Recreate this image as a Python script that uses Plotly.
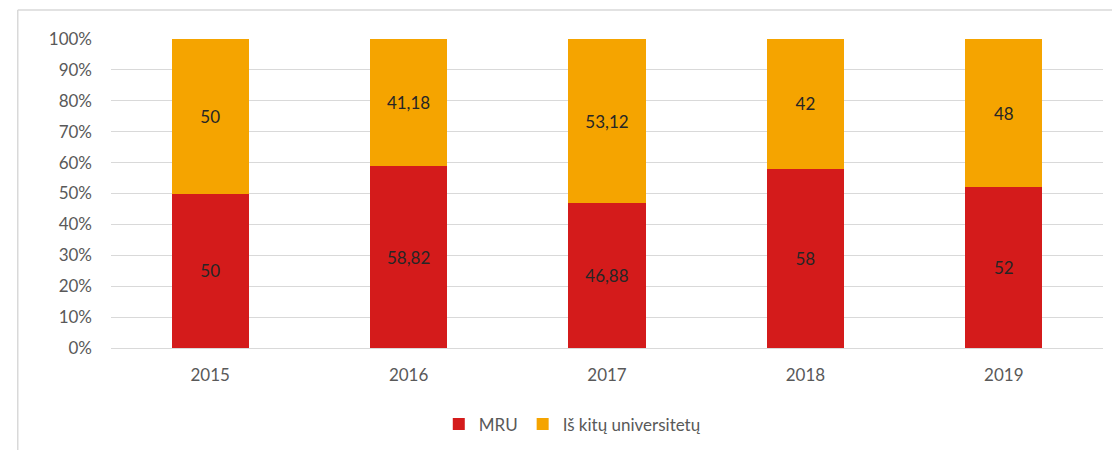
import plotly.graph_objects as go

years = ["2015", "2016", "2017", "2018", "2019"]
mru = [50, 58.82, 46.88, 58, 52]
other = [50, 41.18, 53.12, 42, 48]
series_names = ["MRU", "Iš kitų universitetų"]
y_ticks = [0, 10, 20, 30, 40, 50, 60, 70, 80, 90, 100]
y_tick_labels = [f"{v}%" for v in y_ticks]

def fmt(v):
    return (f"{v:g}").replace(".", ",")

FONT = "Lato, Calibri, Carlito, sans-serif"

fig = go.Figure()
fig.add_trace(go.Bar(
    x=years, y=mru, name=series_names[0], marker_color="#d41b1b",
    text=[fmt(v) for v in mru], textposition="inside", insidetextanchor="middle",
    textfont=dict(color="#262626", size=17, family=FONT), marker_line_width=0,
))
fig.add_trace(go.Bar(
    x=years, y=other, name=series_names[1], marker_color="#f5a400",
    text=[fmt(v) for v in other], textposition="inside", insidetextanchor="middle",
    textfont=dict(color="#262626", size=17, family=FONT), marker_line_width=0,
))

# page body has an 8px default margin, so the figure is 8px smaller
fig.update_layout(
    barmode="stack",
    bargap=0.61,
    width=1112, height=442,
    margin=dict(l=103, r=17, t=31, b=102, autoexpand=False),
    plot_bgcolor="white", paper_bgcolor="white",
    font=dict(family=FONT, size=17, color="#595959"),
    legend=dict(orientation="h", x=0.465, xanchor="center",
                yref="container", y=0.058, yanchor="middle",
                font=dict(size=17, color="#595959"), itemwidth=30, traceorder="normal"),
    xaxis=dict(showgrid=False, showline=False, ticks="", ticklabelstandoff=15,
               tickfont=dict(size=17, color="#595959")),
    yaxis=dict(range=[0, 100], tickvals=y_ticks, ticktext=y_tick_labels,
               showgrid=True, gridcolor="#d9d9d9", gridwidth=1,
               zeroline=True, zerolinecolor="#d9d9d9", zerolinewidth=1,
               ticks="", ticklabelstandoff=18, tickfont=dict(size=17, color="#595959")),
    shapes=[
        dict(type="line", xref="paper", yref="paper", x0=-0.094, x1=-0.094, y0=-0.5, y1=1.094,
             line=dict(color="#d9d9d9", width=1.5)),
        dict(type="line", xref="paper", yref="paper", x0=-0.094, x1=1.05, y0=1.094, y1=1.094,
             line=dict(color="#d9d9d9", width=1.5)),
    ],
)

fig.write_html("out.html")
